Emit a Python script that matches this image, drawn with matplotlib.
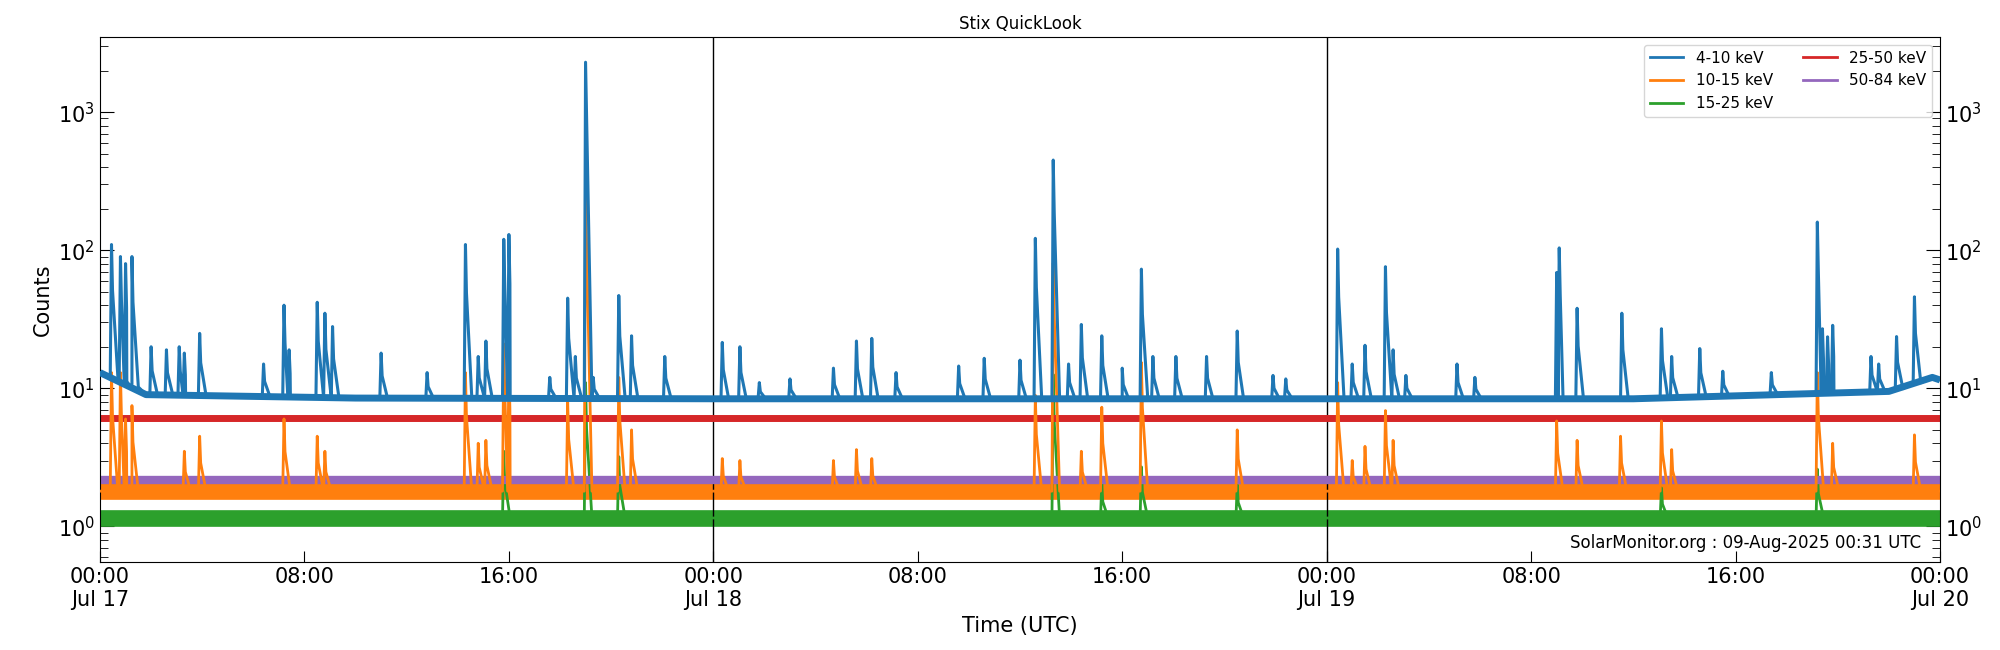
import numpy as np
import matplotlib
matplotlib.use("Agg")
import matplotlib.pyplot as plt
from matplotlib.lines import Line2D
from matplotlib.ticker import LogLocator, NullFormatter

# hours since 2025-07-17 00:00 UTC
tick_hours = [0, 8, 16, 24, 32, 40, 48, 56, 64, 72]
tick_labels = ["00:00\nJul 17", "08:00", "16:00", "00:00\nJul 18", "08:00", "16:00",
               "00:00\nJul 19", "08:00", "16:00", "00:00\nJul 20"]

labels = ["4-10 keV", "10-15 keV", "15-25 keV", "25-50 keV", "50-84 keV"]
colors = ["C0", "C1", "C2", "C3", "C4"]

# baseline key points (hour, counts)
base_4_10_t = [0, 1.8, 10, 24, 40, 48, 60, 70, 71.7, 72]
base_4_10_v = [13, 9, 8.5, 8.4, 8.4, 8.4, 8.4, 9.5, 12, 11.5]
peaks_4_10_t = [0.45, 0.8, 1.0, 1.25, 2.0, 2.6, 3.1, 3.3, 3.9, 6.4, 7.2, 7.4, 8.5, 8.8, 9.1,
                11.0, 12.8, 14.3, 14.8, 15.1, 15.8, 16.0, 17.6, 18.3, 18.6, 19.0, 19.3,
                20.3, 20.8, 22.1,
                24.35, 25.04, 25.8, 27.0, 28.7, 29.6, 30.2, 31.15, 33.6, 34.6, 36.0, 36.6,
                37.3, 37.9, 38.4, 39.2, 40.0, 40.75, 41.2, 42.1, 43.3, 44.5, 45.9, 46.4,
                48.43, 49.0, 49.5, 50.3, 50.6, 51.1, 53.1, 53.8, 57.0, 57.1, 57.8, 59.55,
                61.1, 61.5, 62.6, 63.5, 65.4, 67.2, 67.4, 67.6, 67.8, 69.3, 69.6, 70.3, 71.0]
peaks_4_10_v = [110, 90, 80, 90, 20, 19, 20, 18, 25, 15, 40, 19, 42, 35, 28,
                18, 13, 110, 17, 22, 120, 130, 12, 45, 17, 2300, 12,
                47, 24, 17,
                21.5, 20, 11, 11.7, 14, 22, 23, 13, 14.5, 16.5, 16, 122,
                450, 15, 29, 24, 14, 73, 17, 17, 17, 26, 12.4, 11.7,
                102, 15, 20.5, 76, 19, 12.4, 15, 12, 69, 104, 38, 35,
                27, 17, 19.4, 13.3, 13, 160, 27, 23.6, 28.6, 17, 15, 23.7, 46]

base_10_15 = 1.8
peaks_10_15_t = [0.45, 0.8, 1.0, 1.25, 3.3, 3.9, 7.2, 8.5, 8.8, 14.3, 14.8, 15.1, 15.8, 16.0,
                 18.3, 19.0, 20.3, 20.8,
                 24.35, 25.04, 28.7, 29.6, 30.2, 36.6, 37.3, 38.4, 39.2, 40.75, 44.5,
                 48.43, 49.0, 49.5, 50.3, 50.6, 57.0, 57.8, 59.5, 61.1, 61.5, 67.2, 67.8, 71.0]
peaks_10_15_v = [13, 13, 6, 7.5, 3.5, 4.5, 6, 4.5, 3.5, 13, 4, 4.2, 21, 15,
                 8, 280, 12, 5,
                 3.1, 3.0, 3.0, 3.6, 3.1, 8.9, 81, 3.5, 7.3, 15.4, 5,
                 11, 3.0, 3.8, 6.9, 4.2, 5.8, 4.2, 4.5, 5.8, 3.6, 13, 4, 4.6]

base_15_25 = 1.15
peaks_15_25_t = [15.8, 19.0, 20.3, 37.3, 39.2, 40.75, 44.5, 61.1, 67.2]
peaks_15_25_v = [3.5, 11, 3.2, 12.6, 2.05, 2.7, 2.0, 1.9, 2.6]

base_25_50 = 6.05
base_50_84 = 2.15


def trace(base_t, base_v, pk_t, pk_v):
    t = list(base_t)
    v = list(base_v)
    for pt, pv in zip(pk_t, pk_v):
        b = np.interp(pt, base_t, base_v)
        t += [pt - 0.05, pt, pt + 0.04, pt + 0.25]
        v += [b, pv, b + 0.4 * (pv - b), b]
    order = np.argsort(t, kind="stable")
    return np.array(t)[order], np.array(v)[order]


fig = plt.figure(figsize=(20, 6.5), dpi=100)
ax = fig.add_axes([0.05, 0.135, 0.92, 0.808])

t1, v1 = trace(base_4_10_t, base_4_10_v, peaks_4_10_t, peaks_4_10_v)
t2, v2 = trace([0, 72], [base_10_15] * 2, peaks_10_15_t, peaks_10_15_v)
t3, v3 = trace([0, 72], [base_15_25] * 2, peaks_15_25_t, peaks_15_25_v)

# thick flat bands stand in for the noisy baselines
ax.plot([0, 72], [base_10_15] * 2, color="C1", lw=12, solid_capstyle="butt", zorder=2)
ax.plot([0, 72], [base_15_25] * 2, color="C2", lw=12, solid_capstyle="butt", zorder=2)
ax.plot([0, 72], [base_50_84] * 2, color="C4", lw=6, solid_capstyle="butt", zorder=2.5)
ax.plot([0, 72], [base_25_50] * 2, color="C3", lw=5, solid_capstyle="butt", zorder=2.5)
ax.plot(base_4_10_t, base_4_10_v, color="C0", lw=5, solid_capstyle="butt", zorder=3)

ax.plot(t3, v3, color="C2", lw=2, zorder=2.2)
ax.plot(t2, v2, color="C1", lw=2, zorder=2.8)
ax.plot(t1, v1, color="C0", lw=2.2, zorder=4)

ax.axvline(24, color="k", lw=1)
ax.axvline(48, color="k", lw=1)

ax.set_yscale("log")
ax.set_ylim(0.55, 3500)
ax.set_xlim(0, 72)
ax.set_xticks(tick_hours)
ax.set_xticklabels(tick_labels, fontsize=15)
ax.yaxis.set_major_locator(LogLocator(base=10))
ax.yaxis.set_minor_locator(LogLocator(base=10, subs=np.arange(2, 10)))
ax.yaxis.set_minor_formatter(NullFormatter())
ax.tick_params(axis="y", which="both", direction="in", left=True, right=True,
               labelright=True, labelsize=15)
ax.tick_params(axis="y", which="major", length=10)
ax.tick_params(axis="y", which="minor", length=6)
ax.tick_params(axis="x", direction="in", length=8, top=False)

ax.set_xlabel("Time (UTC)", fontsize=15)
ax.set_ylabel("Counts", fontsize=15)
ax.set_title("Stix QuickLook", fontsize=12)
handles = [Line2D([], [], color=c, lw=2) for c in colors]
ax.legend(handles, labels, loc="upper right", ncol=2, fontsize=11,
          handlelength=2.2, columnspacing=2)
ax.text(0.99, 0.02, "SolarMonitor.org : 09-Aug-2025 00:31 UTC", transform=ax.transAxes,
        ha="right", va="bottom", fontsize=12)

fig.savefig("out.png", dpi=100)
